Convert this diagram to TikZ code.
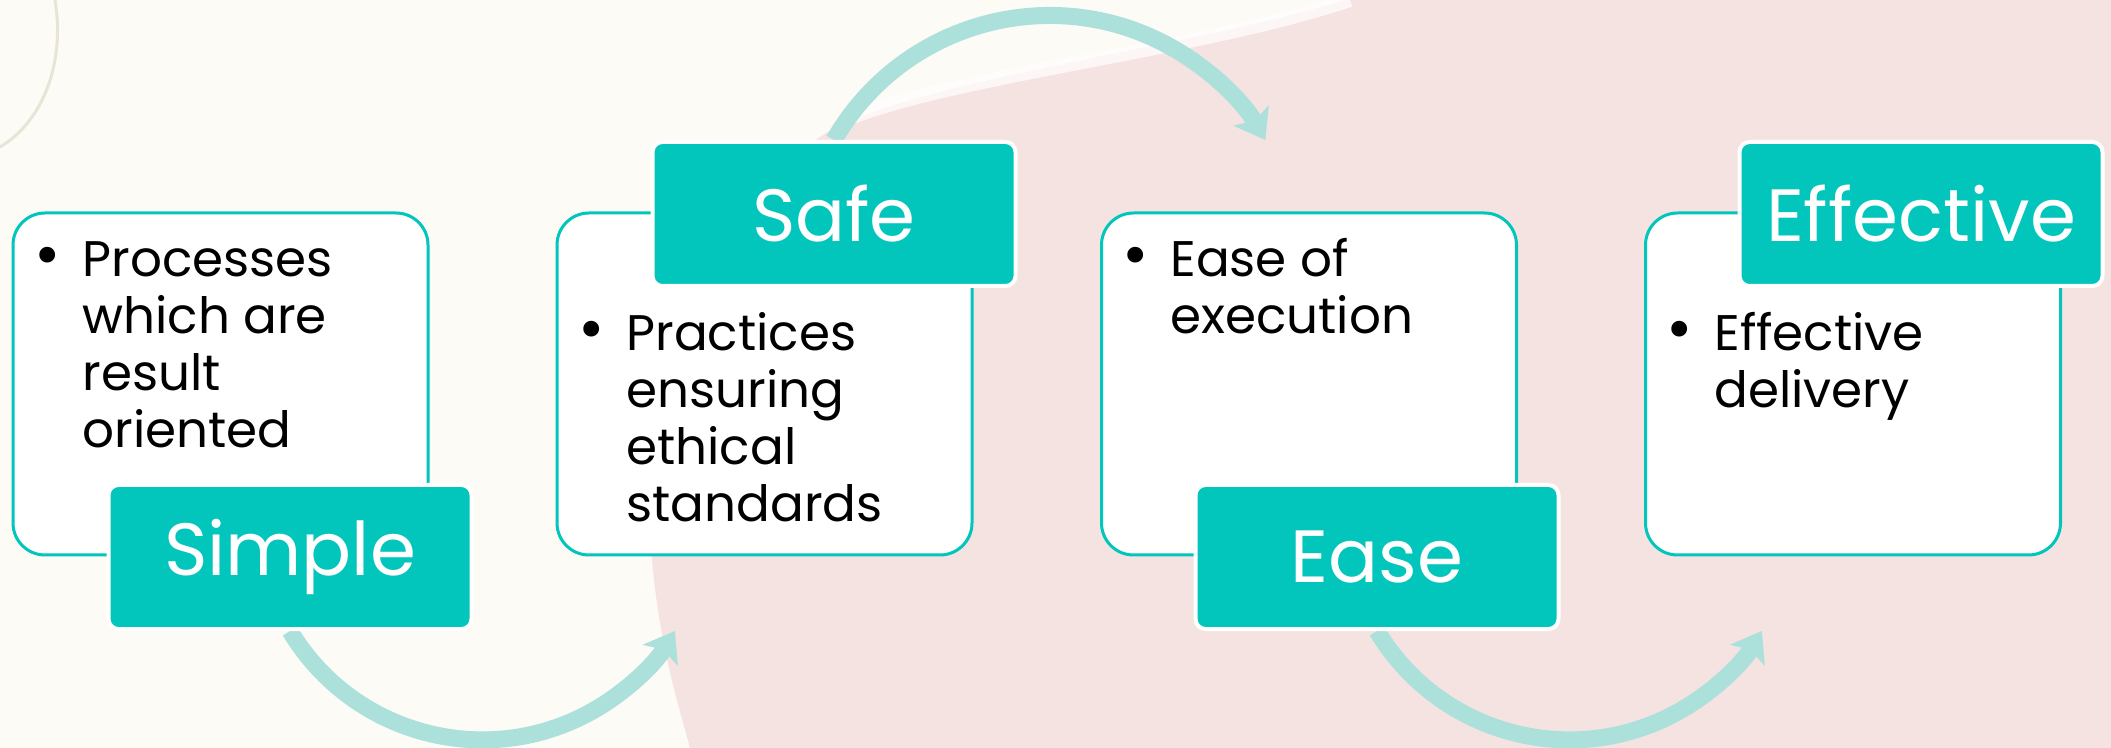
\documentclass[tikz,border=0pt]{standalone}
\usepackage{fontspec}
\setmainfont{Poppins}
\usepackage{xcolor}
\usepackage{tikz}
\usetikzlibrary{arrows.meta,backgrounds,calc}
\definecolor{cream}{RGB}{253,251,246}
\definecolor{blush}{RGB}{245,227,226}
\definecolor{aqua}{RGB}{2,197,188}
\definecolor{mint}{RGB}{172,224,218}
\definecolor{sand}{RGB}{232,228,214}

\begin{document}
\begin{tikzpicture}[x=0.5pt,y=-0.5pt,
  card/.style={draw=aqua,line width=1.5pt,fill=white,rounded corners=16pt,
    minimum width=207.5pt,minimum height=171pt},
  tag/.style={draw=white,line width=2pt,fill=aqua,rounded corners=5pt,
    minimum width=181.5pt,minimum height=72pt,text=white,
    font=\fontsize{37}{40}\selectfont},
  point/.style={align=left,inner sep=0pt,anchor=base west,
    font=\fontsize{25}{28.5}\selectfont},
  dotmark/.style={inner sep=0pt,anchor=base,font=\fontsize{32}{34}\selectfont},
  flow/.style={draw=mint,line width=8.5pt,
    -{Stealth[length=14pt,width=20pt,inset=3pt]}}]
\useasboundingbox (0,0) rectangle (2111,748);

\node[card] (simplebox) at (220.5,384) {};
\node[card] (safebox) at (764.5,384) {};
\node[card] (easebox) at (1309,384) {};
\node[card] (effectivebox) at (1853,384) {};

% the base anchor of a multi-line node is its last line
\node[dotmark] (simpledot) at (48,277) {\textbullet};
\node[point] (simpletext) at (82,448) {Processes\\which are\\result\\oriented};
\node[dotmark] (safedot) at (592,351) {\textbullet};
\node[point] (safetext) at (626,522) {Practices\\ensuring\\ethical\\standards};
\node[dotmark] (easedot) at (1136,277) {\textbullet};
\node[point] (easetext) at (1170,334) {Ease of\\execution};
\node[dotmark] (effectivedot) at (1680,351) {\textbullet};
\node[point] (effectivetext) at (1714,408) {Effective\\delivery};

\node[tag] (simple) at (290,557) {Simple};
\node[tag] (safe) at (834,214) {Safe};
\node[tag] (ease) at (1377,557) {Ease};
\node[tag] (effective) at (1921,214) {Effective};

\begin{scope}[on background layer]
\fill[cream] (0,0) rectangle (2111,748);
\fill[blush] (1345,0) .. controls (1200,45) and (950,75) .. (840,125)
  .. controls (700,200) and (640,420) .. (652,560)
  .. controls (660,650) and (680,710) .. (690,748)
  -- (2111,748) -- (2111,0) -- cycle;
\draw[white,opacity=.7,line width=7pt] (850,118) .. controls (960,75) and (1200,50) .. (1350,0);
\draw[sand,line width=1.5pt] (0,147) .. controls (45,120) and (65,60) .. (55,0);
\draw[flow] (simple.south) arc[start angle=149,end angle=31,radius=224.5];
\draw[flow] (safe.north) arc[start angle=210,end angle=330,radius=249];
\draw[flow] (ease.south) arc[start angle=149,end angle=31,radius=224.5];
\end{scope}
\end{tikzpicture}
\end{document}
